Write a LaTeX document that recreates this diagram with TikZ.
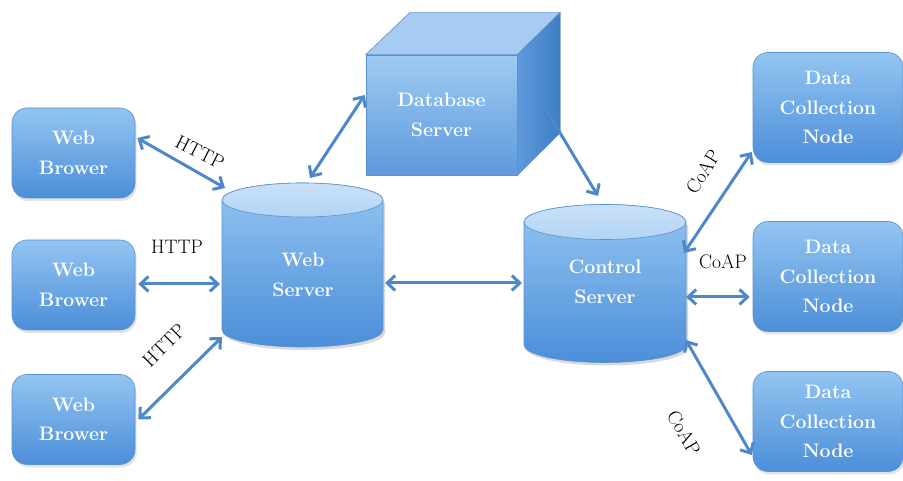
\documentclass[tikz,border=0pt]{standalone}
\usepackage{fontspec}
\usetikzlibrary{arrows.meta,calc,shadows}
\definecolor{boxtop}{HTML}{93C5F1}
\definecolor{boxbot}{HTML}{4C8ED9}
\definecolor{edgec}{HTML}{5B91CD}
\definecolor{arr}{HTML}{4C88CA}
\definecolor{ell}{HTML}{B2D4F4}
\definecolor{cubetop}{HTML}{A6CCF1}
\definecolor{cubera}{HTML}{5F9ADB}
\definecolor{cuberb}{HTML}{3E7DC5}
\newcommand\mycyl[5]{%
  \fill[black,opacity=0.15] (#1-#4+2,#2-3) -- (#1-#4+2,#3-3) arc[start angle=180,end angle=360,x radius=#4,y radius=#5] -- (#1+#4+2,#2-3) -- cycle;
  \shade[top color=boxtop, bottom color=boxbot, draw=edgec, line width=0.6pt]
    (#1-#4,#2) -- (#1-#4,#3) arc[start angle=180,end angle=360,x radius=#4,y radius=#5]
    -- (#1+#4,#2) arc[start angle=0,end angle=180,x radius=#4,y radius=#5] -- cycle;
  \shade[top color=ell!70!white, bottom color=ell, draw=edgec, line width=0.6pt]
    (#1,#2) ellipse[x radius=#4,y radius=#5];
}
\tikzset{
  x=1pt, y=1pt,
  nodetext/.style={text=white, align=center, inner sep=0pt,
    font=\fontsize{19.5}{29.5}\selectfont\bfseries},
  box/.style={nodetext, rounded corners=15pt, minimum width=123pt, minimum height=90pt,
    top color=boxtop, bottom color=boxbot, draw=edgec, line width=0.6pt,
    drop shadow={opacity=0.22, shadow xshift=1.5pt, shadow yshift=-3pt}},
  dcnbox/.style={box, minimum width=150pt, minimum height=110pt},
  proto/.style={font=\fontsize{19.5}{24}\selectfont, text=black, inner sep=0pt},
  link/.style={draw=arr, line width=3pt,
    {Straight Barb[length=8pt,width=15pt]}-{Straight Barb[length=8pt,width=15pt]}},
  oneway/.style={draw=arr, line width=3pt, -{Straight Barb[length=8pt,width=15pt]}},
}
\begin{document}
\begin{tikzpicture}
\useasboundingbox (0,0) rectangle (903,481);
\fill[white] (0,0) rectangle (903,481);

% cylinders
\mycyl{302.5}{281}{151}{80.5}{17}
\mycyl{605}{259}{136}{81}{17.5}

% web browsers
\node[box] (wb1) at (73.5,328) {Web\\Brower};
\node[box] (wb2) at (73.5,196) {Web\\Brower};
\node[box] (wb3) at (73.5,61.5) {Web\\Brower};

% servers
\node[nodetext] (ws) at (303,206) {Web\\Server};
\node[nodetext] (cs) at (605,199) {Control\\Server};

% database cube
\node[nodetext, minimum width=151pt, minimum height=120pt,
      top color=boxtop!90!white, bottom color=boxbot!90!white, draw=edgec, line width=0.6pt]
      (db) at (441.5,366) {Database\\Server};
\fill[cubetop, draw=edgec, line width=0.6pt] (db.north west) -- ++(44,42) -- ++(150,0) -- (db.north east) -- cycle;
\shade[left color=cubera, right color=cuberb, draw=edgec, line width=0.6pt]
  (db.north east) -- ++(43,42) -- ++(0,-120) -- (db.south east) -- cycle;

% data collection nodes
\node[dcnbox] (d1) at (828,373.5) {Data\\Collection\\Node};
\node[dcnbox] (d2) at (828,204.5) {Data\\Collection\\Node};
\node[dcnbox, minimum height=100pt] (d3) at (828,59.5) {Data\\Collection\\Node};

% connectors
\draw[link] ($(wb1.east)+(2,15)$) -- ($(ws.center)+(-78,87)$);
\draw[link] ($(wb2.east)+(3,1)$) -- ($(ws.center)+(-83,-9)$);
\draw[link] ($(wb3.east)+(3,0)$) -- ($(ws.center)+(-81,-62)$);
\draw[link] ($(ws.center)+(7,97)$) -- ($(db.west)+(-1,20)$);
\draw[oneway] ($(db.east)+(23,15)$) -- ($(cs.center)+(-7,86)$);
\draw[link] ($(ws.center)+(82,-8)$) -- ($(cs.center)+(-83,-1)$);
\draw[link] ($(cs.center)+(79,29)$) -- ($(d1.west)+(-1,-44.5)$);
\draw[link] ($(cs.center)+(81,-15)$) -- ($(d2.west)+(-3,-20.5)$);
\draw[link] ($(cs.center)+(81,-58)$) -- ($(d3.west)+(-1,-33.5)$);

% protocol labels
\node[proto, rotate=-27] (h1) at (200,329) {HTTP};
\node[proto] (h2) at (177,234) {HTTP};
\node[proto, rotate=45] (h3) at (164,136) {HTTP};
\node[proto, rotate=58] (c1) at (703,309) {CoAP};
\node[proto] (c2) at (723,219) {CoAP};
\node[proto, rotate=-60] (c3) at (684,48) {CoAP};
\end{tikzpicture}
\end{document}
